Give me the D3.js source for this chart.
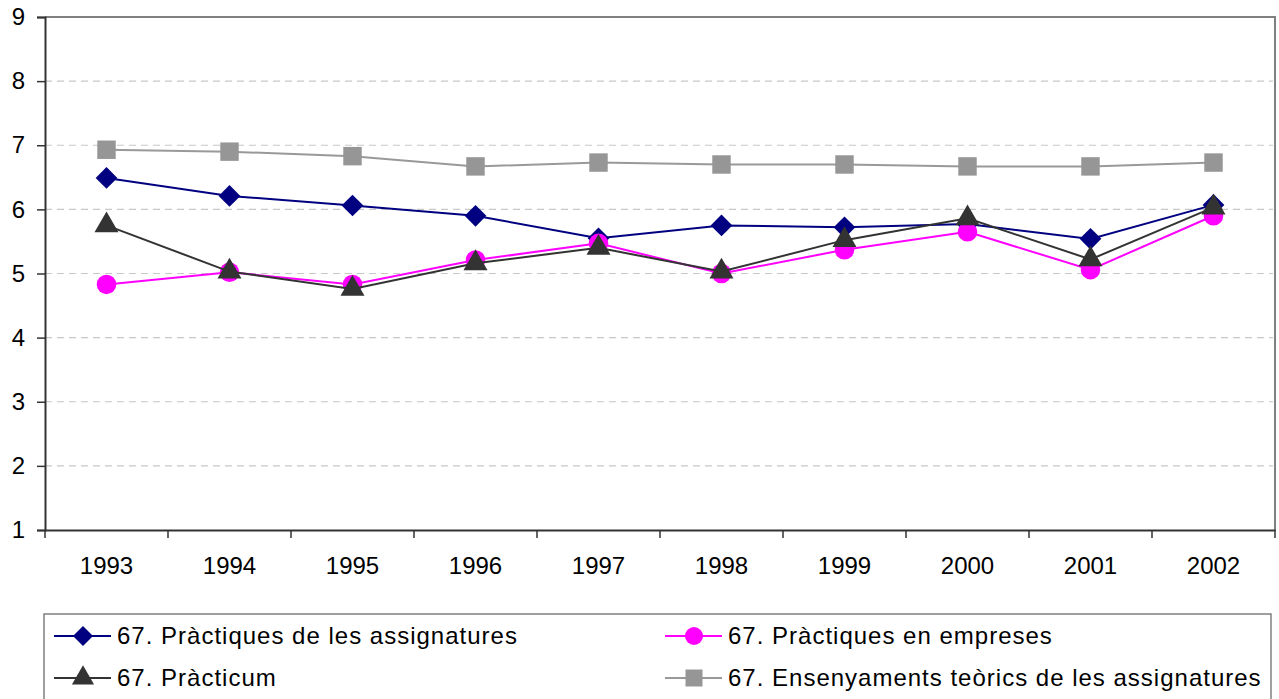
<!DOCTYPE html>
<html>
<head>
<meta charset="utf-8">
<script src="https://cdn.jsdelivr.net/npm/d3@7"></script>
<style>
  html, body { margin: 0; padding: 0; background: #fff; }
  svg { display: block; font-family: "Liberation Sans", Arial, sans-serif; }
</style>
</head>
<body>
<svg id="chart" width="1279" height="699"></svg>
<script>
const years = ["1993","1994","1995","1996","1997","1998","1999","2000","2001","2002"];
const yTicks = [1,2,3,4,5,6,7,8,9];
const seriesNames = [
  "67. Pràctiques de les assignatures",
  "67. Pràctiques en empreses",
  "67. Pràcticum",
  "67. Ensenyaments teòrics de les assignatures"
];
const practiquesAssignatures = [6.49, 6.21, 6.06, 5.90, 5.55, 5.75, 5.72, 5.77, 5.54, 6.07];
const practiquesEmpreses     = [4.83, 5.02, 4.83, 5.21, 5.47, 5.00, 5.37, 5.65, 5.06, 5.90];
const practicum              = [5.75, 5.03, 4.76, 5.16, 5.40, 5.03, 5.52, 5.86, 5.22, 6.03];
const ensenyamentsTeorics    = [6.93, 6.90, 6.83, 6.67, 6.73, 6.70, 6.70, 6.67, 6.67, 6.73];

const series = [
  { name: seriesNames[3], values: ensenyamentsTeorics, color: "#999999", fill: "#969696", symbol: d3.symbolSquare, size: 340 },
  { name: seriesNames[0], values: practiquesAssignatures, color: "#000080", fill: "#000080", symbol: d3.symbolDiamond2 || d3.symbolDiamond, size: 300 },
  { name: seriesNames[1], values: practiquesEmpreses, color: "#ff00ff", fill: "#ff00ff", symbol: d3.symbolCircle, size: 300 },
  { name: seriesNames[2], values: practicum, color: "#333333", fill: "#333333", symbol: d3.symbolTriangle, size: 250 }
];

const svg = d3.select("#chart");
const L = 45, R = 1275, T = 17, B = 530;
const FONT = "Liberation Sans, Arial, sans-serif";

const x = d3.scaleBand().domain(years).range([L, R]);
const y = d3.scaleLinear().domain([1, 9]).range([B, T]);

// gridlines
svg.append("g").selectAll("line").data(yTicks.filter(v => v > 1 && v < 9)).join("line")
  .attr("x1", L).attr("x2", R - 2)
  .attr("y1", d => y(d)).attr("y2", d => y(d))
  .attr("stroke", "#c8c8c8").attr("stroke-width", 1.2).attr("stroke-dasharray", "7,5");

// plot border (top & right)
svg.append("path")
  .attr("d", `M${L},${y(9)}H${R}V${y(1)}`)
  .attr("fill", "none").attr("stroke", "#808080").attr("stroke-width", 2);

// y axis
const yAxis = d3.axisLeft(y).tickValues(yTicks).tickSize(8).tickPadding(12).tickFormat(d3.format("d"));
const gy = svg.append("g").attr("transform", `translate(${L},0)`).call(yAxis);
gy.select(".domain").attr("stroke", "#333").attr("stroke-width", 2);
gy.selectAll(".tick line").attr("stroke", "#333").attr("stroke-width", 1.5);
gy.selectAll("text").attr("font-size", 24).attr("fill", "#000").attr("font-family", FONT);

// x axis
const xAxis = d3.axisBottom(x).tickSize(0).tickPadding(27);
const gx = svg.append("g").attr("transform", `translate(0,${B})`).call(xAxis);
gx.select(".domain").attr("stroke", "#333").attr("stroke-width", 2);
gx.selectAll("text").attr("font-size", 24).attr("fill", "#000").attr("font-family", FONT);
const bounds = years.map(d => x(d)).concat([x(years[years.length - 1]) + x.bandwidth()]);
gx.append("g").selectAll("line").data(bounds).join("line")
  .attr("x1", d => d).attr("x2", d => d).attr("y1", 0).attr("y2", 8)
  .attr("stroke", "#333").attr("stroke-width", 1.5);

const cx = d => x(d) + x.bandwidth() / 2;
const line = d3.line().x((d, i) => cx(years[i])).y(d => y(d));

series.forEach(s => {
  const g = svg.append("g");
  g.append("path").datum(s.values).attr("d", line)
    .attr("fill", "none").attr("stroke", s.color).attr("stroke-width", 2);
  const sym = d3.symbol().type(s.symbol).size(s.size);
  g.selectAll("path.m").data(s.values).join("path").attr("class", "m")
    .attr("d", sym)
    .attr("transform", (d, i) => `translate(${cx(years[i])},${y(d)})`)
    .attr("fill", s.fill);
});

// legend
const legend = svg.append("g");
legend.append("rect").attr("x", 44).attr("y", 614).attr("width", 1227).attr("height", 100)
  .attr("fill", "#fff").attr("stroke", "#808080").attr("stroke-width", 1.5);
const legendItems = [
  { s: series[1], x: 54, y: 636 },
  { s: series[2], x: 665, y: 636 },
  { s: series[3], x: 54, y: 678 },
  { s: series[0], x: 665, y: 678 }
];
legendItems.forEach(it => {
  const g = legend.append("g").attr("transform", `translate(${it.x},${it.y})`);
  g.append("line").attr("x1", 0).attr("x2", 57).attr("y1", 0).attr("y2", 0)
    .attr("stroke", it.s.color).attr("stroke-width", 2);
  g.append("path").attr("d", d3.symbol().type(it.s.symbol).size(it.s.size * 0.85)())
    .attr("transform", "translate(29,0)").attr("fill", it.s.fill);
  g.append("text").attr("x", 63).attr("y", 0).attr("dy", "0.35em")
    .attr("font-size", 24).attr("letter-spacing", "1px").attr("fill", "#000").attr("font-family", FONT)
    .text(it.s.name);
});
</script>
</body>
</html>
